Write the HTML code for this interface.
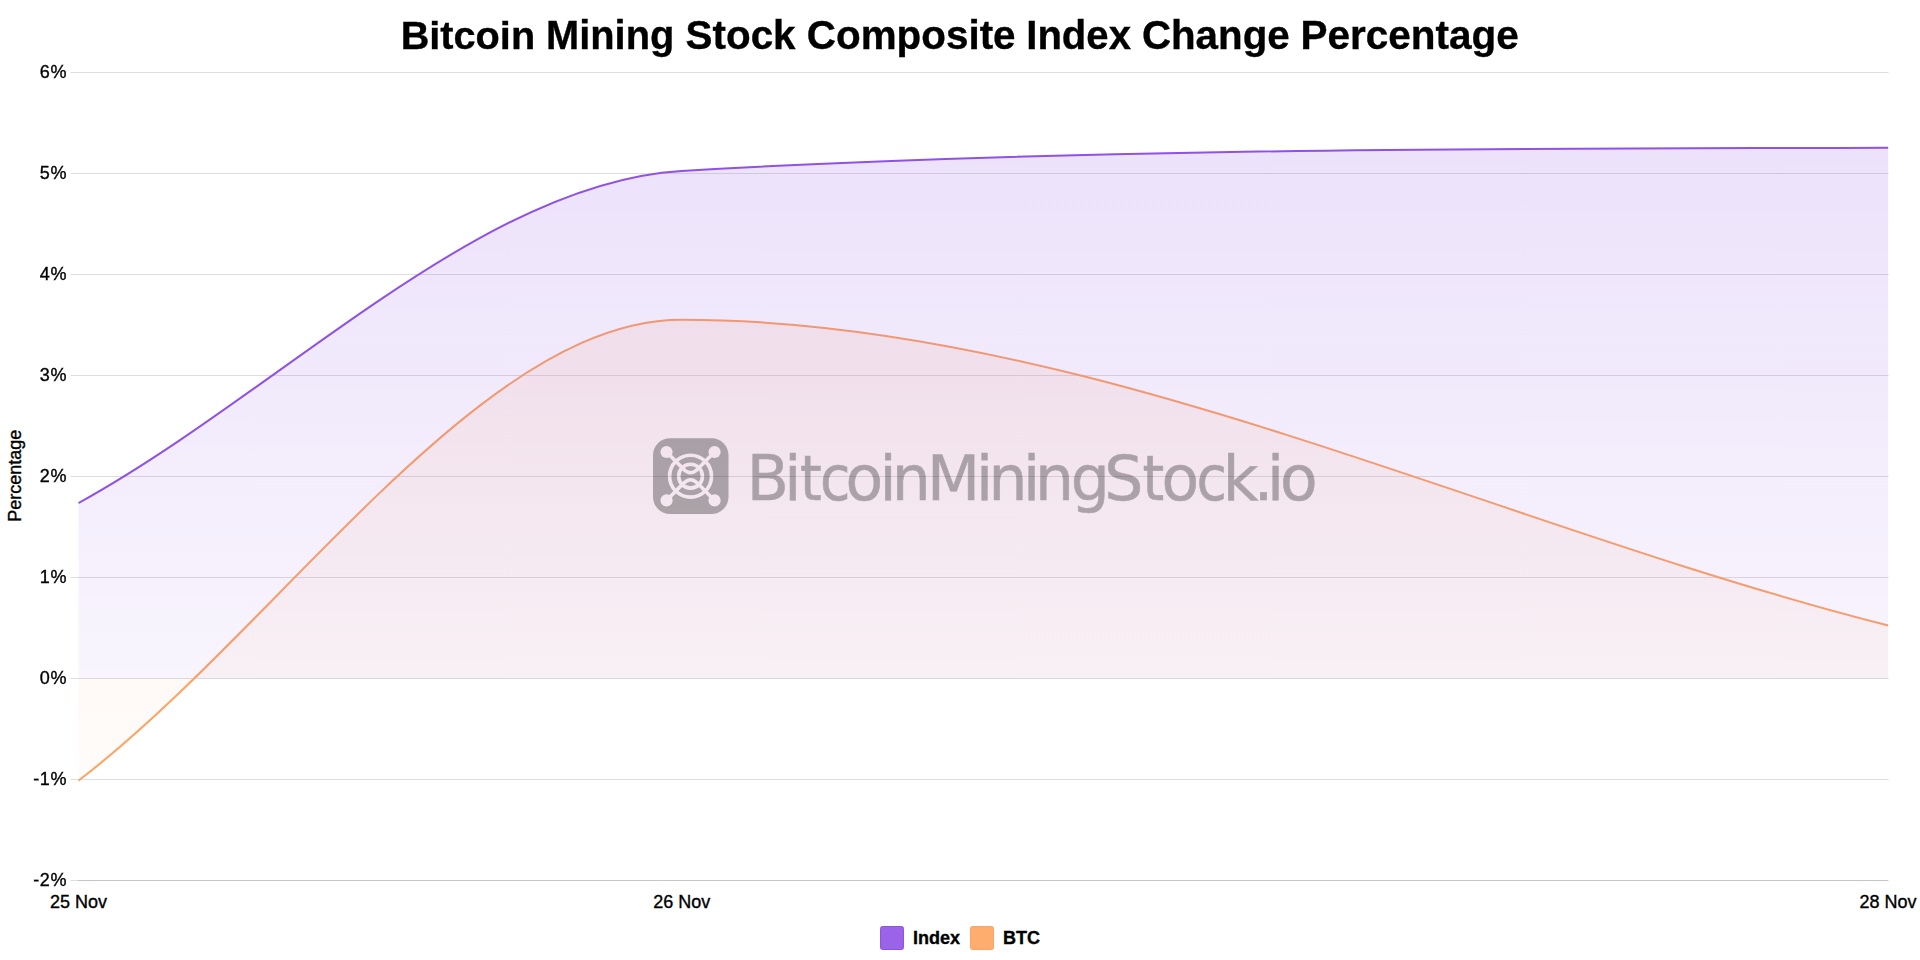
<!DOCTYPE html>
<html lang="en">
<head>
<meta charset="utf-8">
<title>Bitcoin Mining Stock Composite Index Change Percentage</title>
<style>
html,body{margin:0;padding:0;background:#fff;}
body{width:1920px;height:960px;overflow:hidden;font-family:"Liberation Sans",sans-serif;}
svg{display:block;}
text{font-family:"Liberation Sans",sans-serif;fill:#000;stroke:#000;stroke-width:0.35px;}
.tick text{font-size:18px;}
</style>
</head>
<body>
<svg width="1920" height="960" viewBox="0 0 1920 960">
<defs>
<linearGradient id="gp" gradientUnits="userSpaceOnUse" x1="0" y1="0" x2="0" y2="960">
<stop offset="0" stop-color="#8f52e4" stop-opacity="0.2"/><stop offset="1" stop-color="#8f52e4" stop-opacity="0"/>
</linearGradient>
<linearGradient id="go" gradientUnits="userSpaceOnUse" x1="0" y1="0" x2="0" y2="960">
<stop offset="0" stop-color="#ffa262" stop-opacity="0.19"/><stop offset="1" stop-color="#ffa262" stop-opacity="0"/>
</linearGradient>
<clipPath id="ca"><rect x="78.3" y="60" width="1810.3" height="830"/></clipPath>
<mask id="lm" maskUnits="userSpaceOnUse" x="640" y="430" width="100" height="95">
<rect x="640" y="430" width="100" height="95" fill="#fff"/>
<g fill="none" stroke="#000" stroke-width="3.6">
<circle cx="690.55" cy="476.2" r="20.95"/>
<circle cx="690.55" cy="476.2" r="11.9"/>
<path d="M666.55,452.00 L682.95,468.60 Q690.55,476.80 698.15,468.60 L714.55,452.00"/>
<path d="M666.55,500.40 L682.95,483.80 Q690.55,475.60 698.15,483.80 L714.55,500.40"/>
</g>
<g fill="#000">
<circle cx="666.55" cy="452.00" r="6.1"/><circle cx="714.55" cy="452.00" r="6.1"/>
<circle cx="666.55" cy="500.40" r="6.1"/><circle cx="714.55" cy="500.40" r="6.1"/>
</g>
</mask>
</defs>
<rect width="1920" height="960" fill="#fff"/>
<!-- grid -->
<g id="grid">
<rect x="70.5" y="72" width="1818.1" height="1" fill="#000" fill-opacity="0.13"/>
<rect x="70.5" y="173" width="1818.1" height="1" fill="#000" fill-opacity="0.13"/>
<rect x="70.5" y="274" width="1818.1" height="1" fill="#000" fill-opacity="0.13"/>
<rect x="70.5" y="375" width="1818.1" height="1" fill="#000" fill-opacity="0.13"/>
<rect x="70.5" y="476" width="1818.1" height="1" fill="#000" fill-opacity="0.13"/>
<rect x="70.5" y="577" width="1818.1" height="1" fill="#000" fill-opacity="0.13"/>
<rect x="70.5" y="678" width="1818.1" height="1" fill="#000" fill-opacity="0.13"/>
<rect x="70.5" y="779" width="1818.1" height="1" fill="#000" fill-opacity="0.13"/>
<rect x="70.5" y="880" width="1818.1" height="1" fill="#000" fill-opacity="0.13"/>
<rect x="78" y="880" width="1810" height="1" fill="#000" fill-opacity="0.11"/>
</g>
<!-- datasets -->
<g clip-path="url(#ca)">
<path d="M78.30,780.80 C279.41,627.10 480.52,319.70 681.63,319.70 C1083.86,319.70 1486.08,523.57 1888.30,625.50 L1888.3,678.5 L78.3,678.5 Z" fill="url(#go)"/>
<path d="M78.30,780.80 C279.41,627.10 480.52,319.70 681.63,319.70 C1083.86,319.70 1486.08,523.57 1888.30,625.50" fill="none" stroke="#ffa262" stroke-width="2"/>
<path d="M78.30,503.20 C279.41,392.43 480.52,182.50 681.63,170.90 C1083.86,147.70 1486.08,149.22 1888.30,147.65 L1888.3,678.5 L78.3,678.5 Z" fill="url(#gp)"/>
<path d="M78.30,503.20 C279.41,392.43 480.52,182.50 681.63,170.90 C1083.86,147.70 1486.08,149.22 1888.30,147.65" fill="none" stroke="#8f52e4" stroke-width="2"/>
</g>
<!-- watermark -->
<g id="wm" opacity="0.3">
<rect x="653" y="438.2" width="75.5" height="75.8" rx="17" ry="17" mask="url(#lm)" fill="#000"/>
<text id="wmt" x="746.7 784.3 799.9 820.0 845.6 879.6 891.8 926.9 976.1 988.4 1023.1 1035.1 1070.8 1104.2 1142.4 1161.4 1196.4 1222.8 1253.8 1267.1 1279.9" y="499.8" font-size="61.5" style="font-family:'DejaVu Sans','Liberation Sans',sans-serif;stroke-width:0.6px">Bi<tspan font-stretch="condensed" style="font-family:'DejaVu Sans Condensed','DejaVu Sans',sans-serif">tc</tspan>oinMiningS<tspan font-stretch="condensed" style="font-family:'DejaVu Sans Condensed','DejaVu Sans',sans-serif">t</tspan>o<tspan font-stretch="condensed" style="font-family:'DejaVu Sans Condensed','DejaVu Sans',sans-serif">c</tspan>k.io</text>
</g>
<!-- title -->
<text id="title" y="48.7" font-size="40" font-weight="bold"><tspan x="400.65" font-size="39.7">Bitcoin</tspan> <tspan x="546.1" font-size="39.8">Mining</tspan> <tspan x="685.6" font-size="40.4">Stock</tspan> <tspan x="806.85" font-size="40.4">Composite</tspan> <tspan x="1026.26" font-size="40.1">Index</tspan> <tspan x="1141.91" font-size="40.3">Change</tspan> <tspan x="1300.41" font-size="40.5">Percentage</tspan></text>
<!-- y axis -->
<g class="tick">
<text x="67.0" y="78.1" text-anchor="end" letter-spacing="0.6">6%</text>
<text x="67.0" y="179.1" text-anchor="end" letter-spacing="0.6">5%</text>
<text x="67.0" y="280.1" text-anchor="end" letter-spacing="0.6">4%</text>
<text x="67.0" y="381.1" text-anchor="end" letter-spacing="0.6">3%</text>
<text x="67.0" y="482.1" text-anchor="end" letter-spacing="0.6">2%</text>
<text x="67.0" y="583.1" text-anchor="end" letter-spacing="0.6">1%</text>
<text x="67.0" y="684.1" text-anchor="end" letter-spacing="0.6">0%</text>
<text x="67.0" y="785.1" text-anchor="end" letter-spacing="0.6">-1%</text>
<text x="67.0" y="886.1" text-anchor="end" letter-spacing="0.6">-2%</text>
</g>
<text transform="translate(21.2,475.7) rotate(-90)" font-size="18" text-anchor="middle">Percentage</text>
<!-- x axis -->
<g class="tick">
<text x="78.4" y="907.9" text-anchor="middle">25 Nov</text>
<text x="681.7" y="907.9" text-anchor="middle">26 Nov</text>
<text x="1888" y="907.9" text-anchor="middle">28 Nov</text>
</g>
<!-- legend -->
<rect x="880.5" y="926.5" width="23" height="23" rx="2" fill="#9b64e8" stroke="#8f52e4"/>
<text x="913" y="944.4" font-size="18" font-weight="bold">Index</text>
<rect x="970.5" y="926.5" width="23" height="23" rx="2" fill="#ffad6e" stroke="#ffa262"/>
<text x="1003" y="944.4" font-size="18" font-weight="bold">BTC</text>
</svg>
</body>
</html>
